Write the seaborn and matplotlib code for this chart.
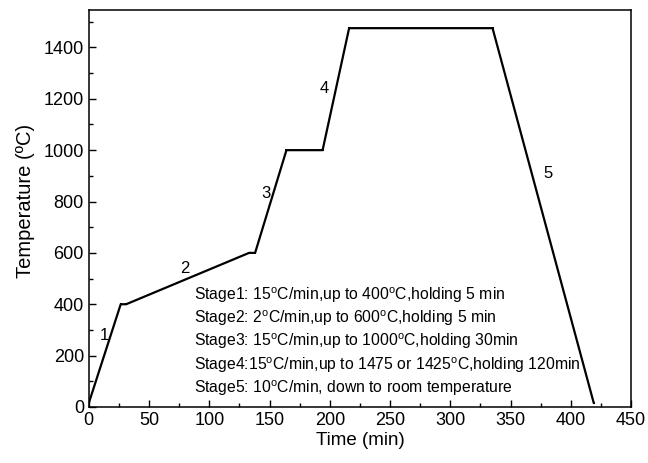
import numpy as np
import pandas as pd
import seaborn as sns
import matplotlib.pyplot as plt
from matplotlib.ticker import MultipleLocator

# Sintering profile
time_min = [0, 26.5, 31, 133, 138, 164, 194, 216, 335, 419]
temp_c = [15, 400, 400, 600, 600, 1000, 1000, 1475, 1475, 15]

stage_labels = ["1", "2", "3", "4", "5"]
stage_x = [13, 80, 147, 195, 381]
stage_y = [280, 540, 833, 1240, 910]

notes = [
    "Stage1: 15$^{\\mathregular{o}}$C/min,up to 400$^{\\mathregular{o}}$C,holding 5 min",
    "Stage2: 2$^{\\mathregular{o}}$C/min,up to 600$^{\\mathregular{o}}$C,holding 5 min",
    "Stage3: 15$^{\\mathregular{o}}$C/min,up to 1000$^{\\mathregular{o}}$C,holding 30min",
    "Stage4:15$^{\\mathregular{o}}$C/min,up to 1475 or 1425$^{\\mathregular{o}}$C,holding 120min",
    "Stage5: 10$^{\\mathregular{o}}$C/min, down to room temperature",
]

df = pd.DataFrame({"time": time_min, "temp": temp_c})

sns.set_style("ticks", {"axes.edgecolor": "black", "text.color": "black",
                        "axes.labelcolor": "black", "xtick.color": "black",
                        "ytick.color": "black"})
plt.rcParams['font.family'] = ['Liberation Sans', 'DejaVu Sans']
plt.rcParams['mathtext.fontset'] = 'custom'
plt.rcParams['mathtext.rm'] = 'Liberation Sans'

fig = plt.figure(figsize=(6.48, 4.63), dpi=100)
ax = fig.add_axes([0.137, 0.121, 0.837, 0.857])

sns.lineplot(data=df, x="time", y="temp", sort=False, estimator=None,
             color="black", linewidth=1.6, marker="s", markersize=2,
             markeredgewidth=0, ax=ax)

for lab, x, y in zip(stage_labels, stage_x, stage_y):
    ax.text(x, y, lab, fontsize=12, ha="center", va="center")

for i, s in enumerate(notes):
    ax.text(87, 436 - i * 90.5, s, fontsize=11.3, ha="left", va="center")

ax.set_xlim(0, 450)
ax.set_ylim(0, 1545)
ax.xaxis.set_major_locator(MultipleLocator(50))
ax.xaxis.set_minor_locator(MultipleLocator(25))
ax.yaxis.set_major_locator(MultipleLocator(200))
ax.yaxis.set_minor_locator(MultipleLocator(100))
ax.tick_params(which="both", direction="in", labelsize=13, width=1)
ax.tick_params(which="major", length=5)
ax.tick_params(which="minor", length=3)
for sp in ax.spines.values():
    sp.set_visible(True)
    sp.set_linewidth(1.1)

ax.set_xlabel("Time (min)", fontsize=13.5, labelpad=2)
ax.set_ylabel("Temperature (ºC)", fontsize=14.5, labelpad=4)
ax.yaxis.set_label_coords(-0.1, 0.52)

plt.savefig("out.png", dpi=100)
